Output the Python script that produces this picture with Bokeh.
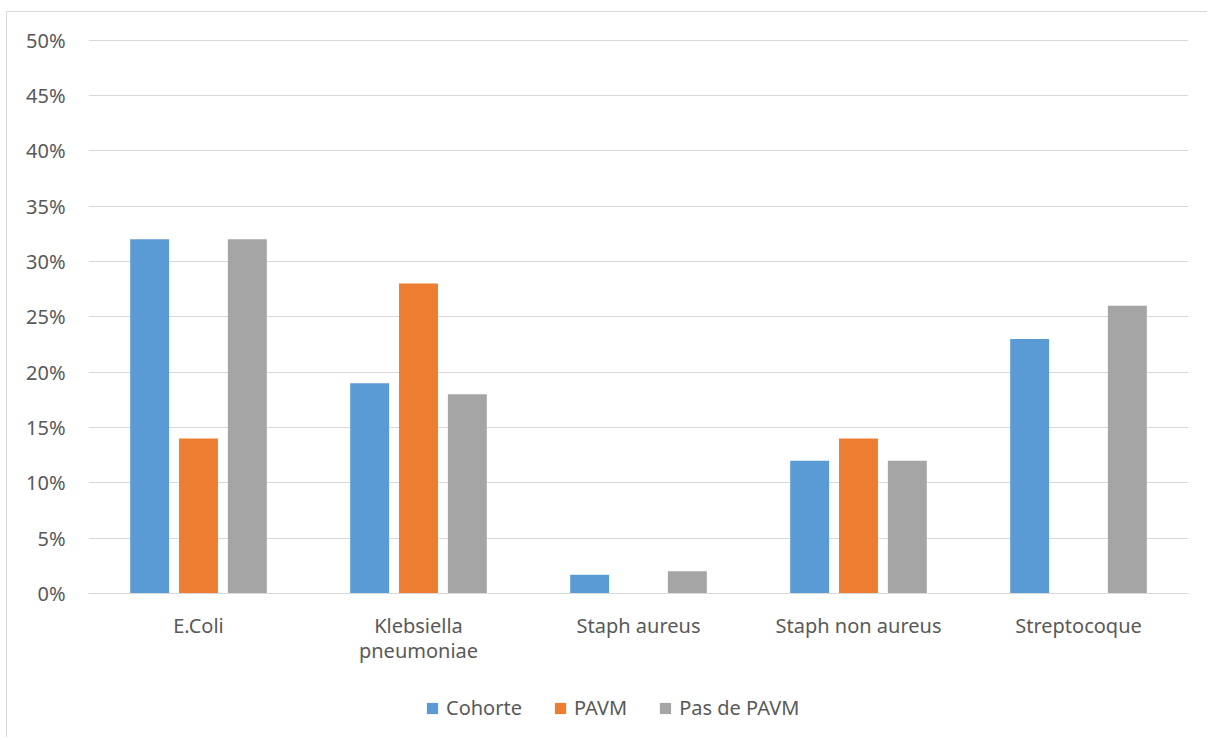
from bokeh.plotting import figure
from bokeh.layouts import column
from bokeh.models import FactorRange, Range1d, NumeralTickFormatter, Legend, LegendItem, SingleIntervalTicker, ColumnDataSource
from bokeh.transform import dodge
from bokeh.embed import file_html
from bokeh.resources import INLINE

categories = ["E.Coli", "Klebsiella\npneumoniae", "Staph aureus", "Staph non aureus", "Streptocoque"]
cohorte = [0.32, 0.19, 0.017, 0.12, 0.23]
pavm = [0.14, 0.28, 0.0, 0.14, 0.0]
pas_de_pavm = [0.32, 0.18, 0.02, 0.12, 0.26]
series_names = ["Cohorte", "PAVM", "Pas de PAVM"]
colors = ["#5B9BD5", "#ED7D31", "#A5A5A5"]
fields = ["cohorte", "pavm", "pas"]

src = ColumnDataSource(dict(cat=categories, cohorte=cohorte, pavm=pavm, pas=pas_de_pavm))

FONT = "Noto Sans"
FS = "20px"
TXT = "#595959"

p = figure(width=1200, height=655, x_range=FactorRange(*categories, range_padding=0),
           y_range=Range1d(0, 0.5005), output_backend="svg", toolbar_location=None,
           min_border_left=81, min_border_right=19, min_border_top=27, min_border_bottom=70)
p.outline_line_color = None

for field, off, col in zip(fields, [-0.222, 0.0, 0.222], colors):
    p.vbar(x=dodge("cat", off, range=p.x_range), top=field, width=0.177, bottom=0,
           source=src, fill_color=col, line_color=None)

p.yaxis.ticker = SingleIntervalTicker(interval=0.05)
p.yaxis.formatter = NumeralTickFormatter(format="0%")
p.yaxis.axis_line_color = None
p.yaxis.major_tick_line_color = None
p.yaxis.minor_tick_line_color = None
p.yaxis.major_label_standoff = 17
p.xaxis.axis_line_color = "#D9D9D9"
p.xaxis.axis_line_width = 1
p.xaxis.major_tick_line_color = None
p.xaxis.minor_tick_line_color = None
p.xaxis.major_label_standoff = 12
p.xaxis.major_label_text_line_height = 0.95
for ax in (p.xaxis, p.yaxis):
    ax.major_label_text_font = FONT
    ax.major_label_text_font_size = FS
    ax.major_label_text_color = TXT
p.xgrid.grid_line_color = None
p.ygrid.grid_line_color = "#D9D9D9"
p.ygrid.grid_line_width = 1

# legend panel
lg = figure(width=1200, height=70, x_range=Range1d(0, 1), y_range=Range1d(0, 1),
            output_backend="svg", toolbar_location=None,
            x_axis_location=None, y_axis_location=None,
            min_border_left=0, min_border_right=0, min_border_top=0, min_border_bottom=0)
lg.grid.visible = False
lg.outline_line_color = None
leg_renderers = [lg.vbar(x=[-5], top=[-2], bottom=[-3], width=0.1, fill_color=c, line_color=None)
                 for c in colors]
legend = Legend(items=[LegendItem(label=n, renderers=[r]) for n, r in zip(series_names, leg_renderers)],
                orientation="horizontal", location=(337, 16))
legend.label_text_font = FONT
legend.label_text_font_size = FS
legend.label_text_color = TXT
legend.glyph_width = 14
legend.glyph_height = 14
legend.spacing = 31
legend.label_standoff = 7
legend.border_line_color = None
legend.background_fill_alpha = 0
legend.margin = 0
legend.padding = 5
lg.add_layout(legend, "center")

layout = column(p, lg, spacing=0)
layout.margin = (11, 0, 0, 6)
layout.styles = {"border-top": "1px solid #D9D9D9", "border-left": "1px solid #D9D9D9"}

open("out.html", "w").write(file_html(layout, INLINE))
